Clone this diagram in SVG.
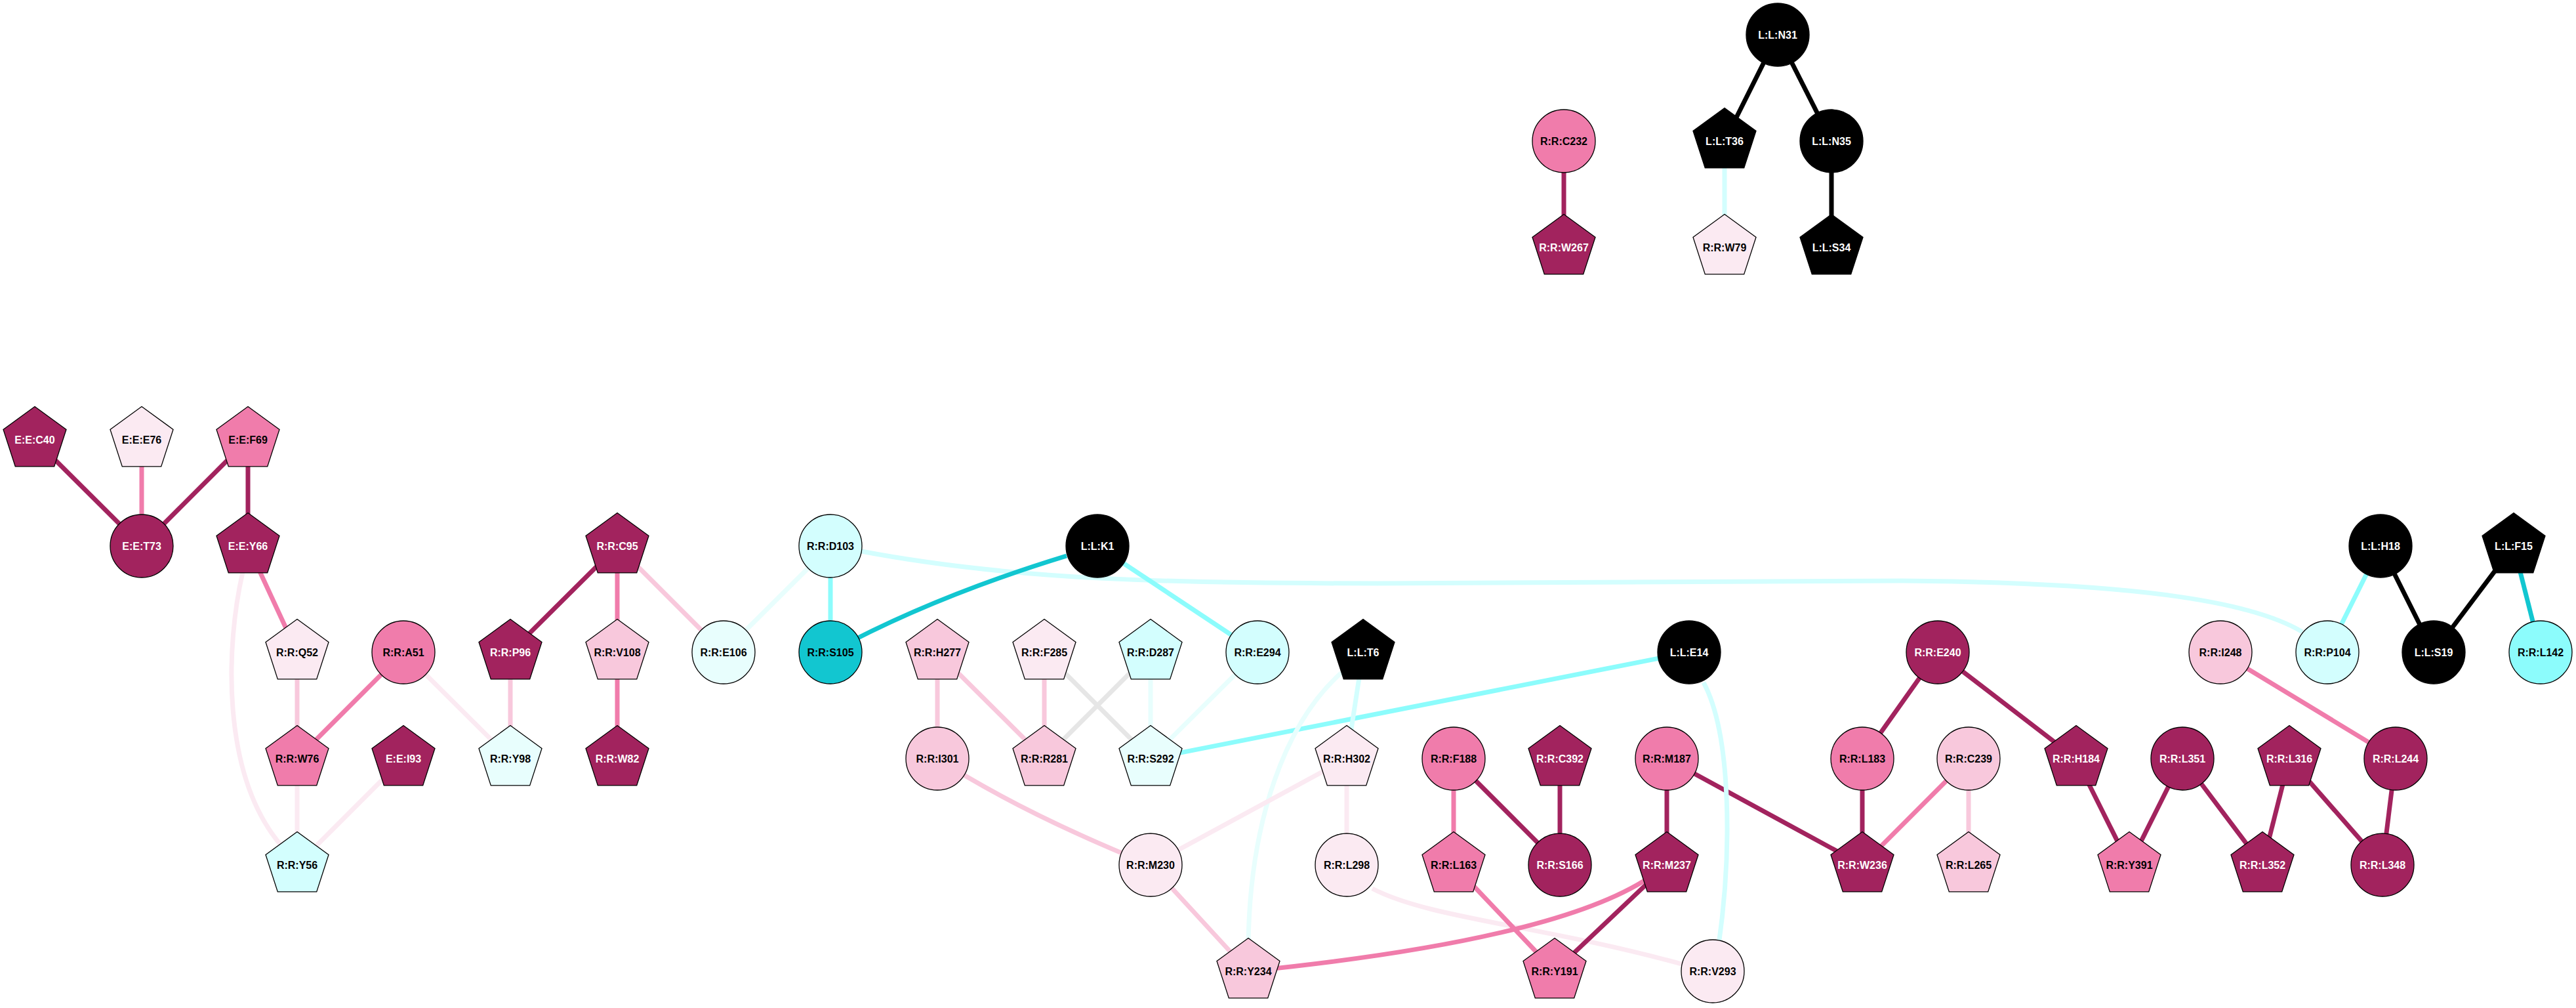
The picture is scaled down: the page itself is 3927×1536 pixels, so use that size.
<svg xmlns="http://www.w3.org/2000/svg" xmlns:xlink="http://www.w3.org/1999/xlink" width="3927" height="1536" viewBox="0 0 3927 1536">
<style>
.e{fill:none;stroke-width:7;stroke-linecap:butt}
.edk{stroke:#A2235E}.emd{stroke:#F07CAB}.elp{stroke:#F8C8DC}.evp{stroke:#FBEAF2}
.evc{stroke:#E8FEFD}.elc{stroke:#D3FEFE}.ecy{stroke:#8CFCFC}.edc{stroke:#12C6D0}.ebk{stroke:#000}.egr{stroke:#E6E6E6}
.node circle,.node use{stroke:#000;stroke-width:1.3}
.dk{fill:#A2235E}.md{fill:#F07CAB}.lp{fill:#F8C8DC}.vp{fill:#FBEAF2}.vc{fill:#E8FEFD}.lc{fill:#D3FEFE}.cy{fill:#8CFCFC}.dc{fill:#12C6D0}.bk{fill:#000}
text{font-family:"Liberation Sans",Arial,sans-serif;font-weight:bold;font-size:16px;text-anchor:middle;fill:#000}
text.w{fill:#fff}
</style>
<defs>
<polygon id="pent" points="0,-50.5 48,-15.6 29.7,40.9 -29.7,40.9 -48,-15.6"/>
</defs>
<rect width="3927" height="1536" fill="#fff"/>
<g id="edges">
<path class="e ebk" d="M2710,53L2629,215"/>
<path class="e ebk" d="M2710,53L2792,215"/>
<path class="e ebk" d="M2792,215L2792,377"/>
<path class="e edk" d="M2384,215L2384,377"/>
<path class="e elc" d="M2629,215L2629,377"/>
<path class="e edk" d="M53,670L216,832"/>
<path class="e emd" d="M216,670L216,832"/>
<path class="e edk" d="M378,670L216,832"/>
<path class="e edk" d="M378,670L378,832"/>
<path class="e emd" d="M378,832L453,994"/>
<path class="e evp" d="M370,872C345,980 335,1180 430,1290"/>
<path class="e elp" d="M453,994L453,1156"/>
<path class="e emd" d="M615,994L453,1156"/>
<path class="e evp" d="M615,994L778,1156"/>
<path class="e evp" d="M453,1156L453,1318"/>
<path class="e evp" d="M615,1156L453,1318"/>
<path class="e edk" d="M941,832L778,994"/>
<path class="e emd" d="M941,832L941,994"/>
<path class="e elp" d="M941,832L1103,994"/>
<path class="e elp" d="M778,994L778,1156"/>
<path class="e emd" d="M941,994L941,1156"/>
<path class="e evc" d="M1266,832L1103,994"/>
<path class="e ecy" d="M1266,832L1266,994"/>
<path class="e elc" d="M1313,840C1550,885 1800,889 2100,889L2900,885C3250,888 3430,915 3510,963"/>
<path class="e edc" d="M1626,847Q1420,910 1266,994"/>
<path class="e ecy" d="M1673,832L1917,994"/>
<path class="e elp" d="M1429,994L1429,1156"/>
<path class="e elp" d="M1429,994L1592,1156"/>
<path class="e elp" d="M1592,994L1592,1156"/>
<path class="e egr" d="M1592,994L1754,1156"/>
<path class="e egr" d="M1754,994L1592,1156"/>
<path class="e evc" d="M1754,994L1754,1156"/>
<path class="e evc" d="M1917,994L1754,1156"/>
<path class="e ecy" d="M2575,994L1754,1156"/>
<path class="e elc" d="M2078,994L2053,1156"/>
<path class="e evc" d="M2045,1025C1960,1100 1905,1250 1903,1440"/>
<path class="e elp" d="M1429,1156Q1560,1240 1754,1318"/>
<path class="e evp" d="M2053,1156L1754,1318"/>
<path class="e evp" d="M2053,1156L2053,1318"/>
<path class="e elp" d="M1754,1318L1903,1480"/>
<path class="e evp" d="M2092,1354C2180,1400 2350,1410 2567,1470L2611,1480"/>
<path class="e emd" d="M2216,1156L2216,1318"/>
<path class="e edk" d="M2216,1156L2378,1318"/>
<path class="e edk" d="M2378,1156L2378,1318"/>
<path class="e edk" d="M2541,1156L2541,1318"/>
<path class="e edk" d="M2541,1156L2839,1318"/>
<path class="e emd" d="M2216,1318L2370,1480"/>
<path class="e edk" d="M2541,1318L2370,1480"/>
<path class="e emd" d="M2541,1318L2505,1343C2420,1395 2250,1445 1903,1480"/>
<path class="e elc" d="M2597,1040C2640,1120 2640,1300 2620,1440"/>
<path class="e edk" d="M2954,994L2839,1156"/>
<path class="e edk" d="M2954,994L3165,1156"/>
<path class="e edk" d="M2839,1156L2839,1318"/>
<path class="e emd" d="M3001,1156L2839,1318"/>
<path class="e elp" d="M3001,1156L3001,1318"/>
<path class="e edk" d="M3165,1156L3246,1318"/>
<path class="e edk" d="M3327,1156L3246,1318"/>
<path class="e edk" d="M3327,1156L3449,1318"/>
<path class="e edk" d="M3490,1156L3449,1318"/>
<path class="e edk" d="M3490,1156L3632,1318"/>
<path class="e emd" d="M3385,994L3652,1156"/>
<path class="e edk" d="M3652,1156L3632,1318"/>
<path class="e ecy" d="M3629,832L3548,994"/>
<path class="e ebk" d="M3629,832L3710,994"/>
<path class="e ebk" d="M3832,832L3710,994"/>
<path class="e edc" d="M3832,832L3873,994"/>
</g>
<g id="nodes">
<g id="L-L-N31" class="node"><circle class="bk" cx="2710" cy="53" r="48"/><text class="w" x="2710" y="59">L:L:N31</text></g>
<g id="R-R-C232" class="node"><circle class="md" cx="2384" cy="215" r="48"/><text x="2384" y="221">R:R:C232</text></g>
<g id="L-L-T36" class="node"><use href="#pent" xlink:href="#pent" class="bk" x="2629" y="215"/><text class="w" x="2629" y="221">L:L:T36</text></g>
<g id="L-L-N35" class="node"><circle class="bk" cx="2792" cy="215" r="48"/><text class="w" x="2792" y="221">L:L:N35</text></g>
<g id="R-R-W267" class="node"><use href="#pent" xlink:href="#pent" class="dk" x="2384" y="377"/><text class="w" x="2384" y="383">R:R:W267</text></g>
<g id="R-R-W79" class="node"><use href="#pent" xlink:href="#pent" class="vp" x="2629" y="377"/><text x="2629" y="383">R:R:W79</text></g>
<g id="L-L-S34" class="node"><use href="#pent" xlink:href="#pent" class="bk" x="2792" y="377"/><text class="w" x="2792" y="383">L:L:S34</text></g>

<g id="E-E-C40" class="node"><use href="#pent" xlink:href="#pent" class="dk" x="53" y="670"/><text class="w" x="53" y="676">E:E:C40</text></g>
<g id="E-E-E76" class="node"><use href="#pent" xlink:href="#pent" class="vp" x="216" y="670"/><text x="216" y="676">E:E:E76</text></g>
<g id="E-E-F69" class="node"><use href="#pent" xlink:href="#pent" class="md" x="378" y="670"/><text x="378" y="676">E:E:F69</text></g>

<g id="E-E-T73" class="node"><circle class="dk" cx="216" cy="832" r="48"/><text class="w" x="216" y="838">E:E:T73</text></g>
<g id="E-E-Y66" class="node"><use href="#pent" xlink:href="#pent" class="dk" x="378" y="832"/><text class="w" x="378" y="838">E:E:Y66</text></g>
<g id="R-R-C95" class="node"><use href="#pent" xlink:href="#pent" class="dk" x="941" y="832"/><text class="w" x="941" y="838">R:R:C95</text></g>
<g id="R-R-D103" class="node"><circle class="lc" cx="1266" cy="832" r="48"/><text x="1266" y="838">R:R:D103</text></g>
<g id="L-L-K1" class="node"><circle class="bk" cx="1673" cy="832" r="48"/><text class="w" x="1673" y="838">L:L:K1</text></g>
<g id="L-L-H18" class="node"><circle class="bk" cx="3629" cy="832" r="48"/><text class="w" x="3629" y="838">L:L:H18</text></g>
<g id="L-L-F15" class="node"><use href="#pent" xlink:href="#pent" class="bk" x="3832" y="832"/><text class="w" x="3832" y="838">L:L:F15</text></g>

<g id="R-R-Q52" class="node"><use href="#pent" xlink:href="#pent" class="vp" x="453" y="994"/><text x="453" y="1000">R:R:Q52</text></g>
<g id="R-R-A51" class="node"><circle class="md" cx="615" cy="994" r="48"/><text x="615" y="1000">R:R:A51</text></g>
<g id="R-R-P96" class="node"><use href="#pent" xlink:href="#pent" class="dk" x="778" y="994"/><text class="w" x="778" y="1000">R:R:P96</text></g>
<g id="R-R-V108" class="node"><use href="#pent" xlink:href="#pent" class="lp" x="941" y="994"/><text x="941" y="1000">R:R:V108</text></g>
<g id="R-R-E106" class="node"><circle class="vc" cx="1103" cy="994" r="48"/><text x="1103" y="1000">R:R:E106</text></g>
<g id="R-R-S105" class="node"><circle class="dc" cx="1266" cy="994" r="48"/><text x="1266" y="1000">R:R:S105</text></g>
<g id="R-R-H277" class="node"><use href="#pent" xlink:href="#pent" class="lp" x="1429" y="994"/><text x="1429" y="1000">R:R:H277</text></g>
<g id="R-R-F285" class="node"><use href="#pent" xlink:href="#pent" class="vp" x="1592" y="994"/><text x="1592" y="1000">R:R:F285</text></g>
<g id="R-R-D287" class="node"><use href="#pent" xlink:href="#pent" class="lc" x="1754" y="994"/><text x="1754" y="1000">R:R:D287</text></g>
<g id="R-R-E294" class="node"><circle class="lc" cx="1917" cy="994" r="48"/><text x="1917" y="1000">R:R:E294</text></g>
<g id="L-L-T6" class="node"><use href="#pent" xlink:href="#pent" class="bk" x="2078" y="994"/><text class="w" x="2078" y="1000">L:L:T6</text></g>
<g id="L-L-E14" class="node"><circle class="bk" cx="2575" cy="994" r="48"/><text class="w" x="2575" y="1000">L:L:E14</text></g>
<g id="R-R-E240" class="node"><circle class="dk" cx="2954" cy="994" r="48"/><text class="w" x="2954" y="1000">R:R:E240</text></g>
<g id="R-R-I248" class="node"><circle class="lp" cx="3385" cy="994" r="48"/><text x="3385" y="1000">R:R:I248</text></g>
<g id="R-R-P104" class="node"><circle class="lc" cx="3548" cy="994" r="48"/><text x="3548" y="1000">R:R:P104</text></g>
<g id="L-L-S19" class="node"><circle class="bk" cx="3710" cy="994" r="48"/><text class="w" x="3710" y="1000">L:L:S19</text></g>
<g id="R-R-L142" class="node"><circle class="cy" cx="3873" cy="994" r="48"/><text x="3873" y="1000">R:R:L142</text></g>

<g id="R-R-W76" class="node"><use href="#pent" xlink:href="#pent" class="md" x="453" y="1156"/><text x="453" y="1162">R:R:W76</text></g>
<g id="E-E-I93" class="node"><use href="#pent" xlink:href="#pent" class="dk" x="615" y="1156"/><text class="w" x="615" y="1162">E:E:I93</text></g>
<g id="R-R-Y98" class="node"><use href="#pent" xlink:href="#pent" class="vc" x="778" y="1156"/><text x="778" y="1162">R:R:Y98</text></g>
<g id="R-R-W82" class="node"><use href="#pent" xlink:href="#pent" class="dk" x="941" y="1156"/><text class="w" x="941" y="1162">R:R:W82</text></g>
<g id="R-R-I301" class="node"><circle class="lp" cx="1429" cy="1156" r="48"/><text x="1429" y="1162">R:R:I301</text></g>
<g id="R-R-R281" class="node"><use href="#pent" xlink:href="#pent" class="lp" x="1592" y="1156"/><text x="1592" y="1162">R:R:R281</text></g>
<g id="R-R-S292" class="node"><use href="#pent" xlink:href="#pent" class="vc" x="1754" y="1156"/><text x="1754" y="1162">R:R:S292</text></g>
<g id="R-R-H302" class="node"><use href="#pent" xlink:href="#pent" class="vp" x="2053" y="1156"/><text x="2053" y="1162">R:R:H302</text></g>
<g id="R-R-F188" class="node"><circle class="md" cx="2216" cy="1156" r="48"/><text x="2216" y="1162">R:R:F188</text></g>
<g id="R-R-C392" class="node"><use href="#pent" xlink:href="#pent" class="dk" x="2378" y="1156"/><text class="w" x="2378" y="1162">R:R:C392</text></g>
<g id="R-R-M187" class="node"><circle class="md" cx="2541" cy="1156" r="48"/><text x="2541" y="1162">R:R:M187</text></g>
<g id="R-R-L183" class="node"><circle class="md" cx="2839" cy="1156" r="48"/><text x="2839" y="1162">R:R:L183</text></g>
<g id="R-R-C239" class="node"><circle class="lp" cx="3001" cy="1156" r="48"/><text x="3001" y="1162">R:R:C239</text></g>
<g id="R-R-H184" class="node"><use href="#pent" xlink:href="#pent" class="dk" x="3165" y="1156"/><text class="w" x="3165" y="1162">R:R:H184</text></g>
<g id="R-R-L351" class="node"><circle class="dk" cx="3327" cy="1156" r="48"/><text class="w" x="3327" y="1162">R:R:L351</text></g>
<g id="R-R-L316" class="node"><use href="#pent" xlink:href="#pent" class="dk" x="3490" y="1156"/><text class="w" x="3490" y="1162">R:R:L316</text></g>
<g id="R-R-L244" class="node"><circle class="dk" cx="3652" cy="1156" r="48"/><text class="w" x="3652" y="1162">R:R:L244</text></g>

<g id="R-R-Y56" class="node"><use href="#pent" xlink:href="#pent" class="lc" x="453" y="1318"/><text x="453" y="1324">R:R:Y56</text></g>
<g id="R-R-M230" class="node"><circle class="vp" cx="1754" cy="1318" r="48"/><text x="1754" y="1324">R:R:M230</text></g>
<g id="R-R-L298" class="node"><circle class="vp" cx="2053" cy="1318" r="48"/><text x="2053" y="1324">R:R:L298</text></g>
<g id="R-R-L163" class="node"><use href="#pent" xlink:href="#pent" class="md" x="2216" y="1318"/><text x="2216" y="1324">R:R:L163</text></g>
<g id="R-R-S166" class="node"><circle class="dk" cx="2378" cy="1318" r="48"/><text class="w" x="2378" y="1324">R:R:S166</text></g>
<g id="R-R-M237" class="node"><use href="#pent" xlink:href="#pent" class="dk" x="2541" y="1318"/><text class="w" x="2541" y="1324">R:R:M237</text></g>
<g id="R-R-W236" class="node"><use href="#pent" xlink:href="#pent" class="dk" x="2839" y="1318"/><text class="w" x="2839" y="1324">R:R:W236</text></g>
<g id="R-R-L265" class="node"><use href="#pent" xlink:href="#pent" class="lp" x="3001" y="1318"/><text x="3001" y="1324">R:R:L265</text></g>
<g id="R-R-Y391" class="node"><use href="#pent" xlink:href="#pent" class="md" x="3246" y="1318"/><text x="3246" y="1324">R:R:Y391</text></g>
<g id="R-R-L352" class="node"><use href="#pent" xlink:href="#pent" class="dk" x="3449" y="1318"/><text class="w" x="3449" y="1324">R:R:L352</text></g>
<g id="R-R-L348" class="node"><circle class="dk" cx="3632" cy="1318" r="48"/><text class="w" x="3632" y="1324">R:R:L348</text></g>

<g id="R-R-Y234" class="node"><use href="#pent" xlink:href="#pent" class="lp" x="1903" y="1480"/><text x="1903" y="1486">R:R:Y234</text></g>
<g id="R-R-Y191" class="node"><use href="#pent" xlink:href="#pent" class="md" x="2370" y="1480"/><text x="2370" y="1486">R:R:Y191</text></g>
<g id="R-R-V293" class="node"><circle class="vp" cx="2611" cy="1480" r="48"/><text x="2611" y="1486">R:R:V293</text></g>
</g>
</svg>
